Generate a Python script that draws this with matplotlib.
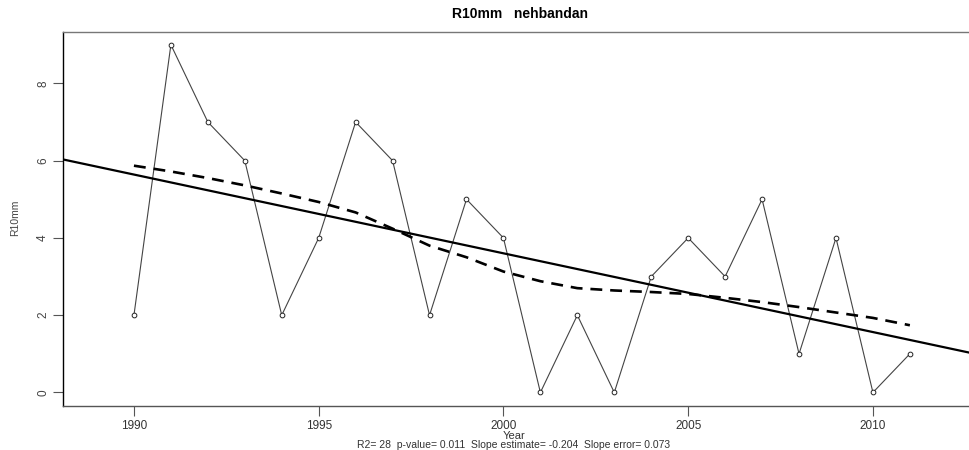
import numpy as np
import matplotlib
matplotlib.use("Agg")
from matplotlib import pyplot as plt

plt.rcParams['font.family'] = ['Liberation Sans', 'DejaVu Sans']

# data
years = [1990, 1991, 1992, 1993, 1994, 1995, 1996, 1997, 1998, 1999, 2000,
         2001, 2002, 2003, 2004, 2005, 2006, 2007, 2008, 2009, 2010, 2011]
r10mm = [2, 9, 7, 6, 2, 4, 7, 6, 2, 5, 4,
         0, 2, 0, 3, 4, 3, 5, 1, 4, 0, 1]
# smoothed (lowess) curve
smooth = [5.87, 5.72, 5.55, 5.36, 5.15, 4.93, 4.66, 4.24, 3.80, 3.50, 3.13,
          2.88, 2.70, 2.64, 2.60, 2.55, 2.45, 2.34, 2.21, 2.07, 1.93, 1.74]
yticks = [0, 2, 4, 6, 8]
xticks = [1990, 1995, 2000, 2005, 2010]
title = "R10mm   nehbandan"
subtitle = "R2= 28  p-value= 0.011  Slope estimate= -0.204  Slope error= 0.073"

W, H = 969, 450
fig = plt.figure(figsize=(W / 100, H / 100), dpi=100)
ax = fig.add_axes([63 / W, 44 / H, (W - 63) / W, 374 / H])

ax.plot(years, r10mm, color="#444444", lw=0.8, marker="o", ms=3.4,
        mfc="white", mec="#222222", mew=0.7, zorder=3)
ax.plot(years, smooth, color="black", lw=1.9, dashes=(4.5, 3), zorder=4)

# least-squares trend, drawn across the whole plot like R's abline
slope, intercept = np.polyfit(years, r10mm, 1)
ax.axline((years[0], intercept + slope * years[0]), slope=slope,
          color="black", lw=1.6, zorder=4)

ax.set_xlim(1988.08, 2012.6)
ax.set_ylim(-0.35, 9.33)
ax.set_xticks(xticks)
ax.set_yticks(yticks)
ax.set_yticklabels([str(v) for v in yticks], rotation=90, va="center")
ax.tick_params(axis="both", labelsize=8.5, colors="#555555", length=7,
               width=0.8, pad=3)
ax.tick_params(axis="y", labelcolor="#444444")
ax.tick_params(axis="x", labelcolor="#333333")

ax.spines["right"].set_visible(False)
ax.spines["left"].set_color("black")
ax.spines["top"].set_color("#777777")
ax.spines["bottom"].set_color("#555555")
for s in ax.spines.values():
    s.set_linewidth(1.0)

fig.text(15 / W, 1 - 218 / H, "R10mm", rotation=90, ha="center",
         va="center", fontsize=7.5, color="#444444")
fig.text(520 / W, 1 - 14 / H, title, ha="center", va="center",
         fontsize=10, fontweight="bold")
fig.text(514 / W, 1 - 436 / H, "Year", ha="center", va="center",
         fontsize=8, color="#333333")
fig.text(514 / W, 1 - 445 / H, subtitle, ha="center", va="center",
         fontsize=7.5, color="#333333")

fig.savefig("out.png", dpi=100)
